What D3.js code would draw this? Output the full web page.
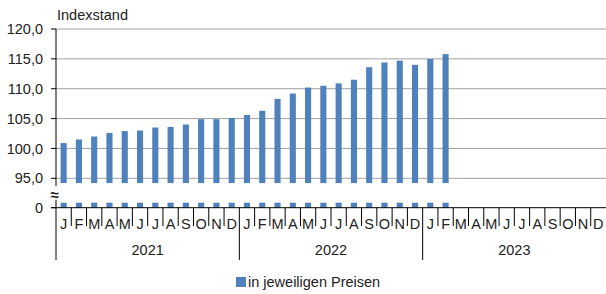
<!DOCTYPE html>
<html>
<head>
<meta charset="utf-8">
<script src="https://cdn.jsdelivr.net/npm/d3@7"></script>
<style>
  body { margin: 0; background: #fff; }
  svg { display: block; font-family: "Liberation Sans", Arial, sans-serif; }
</style>
</head>
<body>
<div id="chart"></div>
<script>
// Data
const years = ["2021", "2022", "2023"];
const monthLetters = ["J", "F", "M", "A", "M", "J", "J", "A", "S", "O", "N", "D"];
const values = [
    100.9, 101.5, 102.0, 102.6, 102.9, 103.0, 103.5, 103.6, 104.0, 104.9, 104.9, 105.1,
    105.6, 106.3, 108.3, 109.2, 110.2, 110.5, 110.9, 111.5, 113.6, 114.4, 114.7, 114.0,
    115.0, 115.8
];
const yTicks = [95, 100, 105, 110, 115, 120];
const seriesName = "in jeweiligen Preisen";

const width = 606, height = 294;
const left = 56, right = 606;
const barColor = "#4f81bd";
const fontSize = 14.5;

const svg = d3.select("#chart").append("svg")
    .attr("width", width)
    .attr("height", height);

const months = d3.range(years.length * 12);

const x = d3.scaleBand()
    .domain(months)
    .range([left, right])
    .paddingInner(0.6)
    .paddingOuter(0.3);

const xEdge = d3.scaleLinear().domain([0, months.length]).range([left, right]);

// Upper scale (95..120) and lower stub scale (0)
const yTop = d3.scaleLinear().domain([95, 120]).range([178.3, 29]);
const barBase = 94.2;
const yLow = d3.scaleLinear().domain([0, 1]).range([207.7, 202.7]);

const fmt = v => d3.format(".1f")(v).replace(".", ",");

// Gridlines
svg.append("g")
    .selectAll("line")
    .data(yTicks)
    .join("line")
    .attr("x1", left).attr("x2", right)
    .attr("y1", d => yTop(d)).attr("y2", d => yTop(d))
    .attr("stroke", "#a0a0a0")
    .attr("stroke-width", 1);

// Bars upper part
svg.append("g")
    .selectAll("rect")
    .data(values)
    .join("rect")
    .attr("x", (d, i) => x(i))
    .attr("width", x.bandwidth())
    .attr("y", d => yTop(d))
    .attr("height", d => yTop(barBase) - yTop(d))
    .attr("fill", barColor);

// Bars lower stub
svg.append("g")
    .selectAll("rect")
    .data(values)
    .join("rect")
    .attr("x", (d, i) => x(i))
    .attr("width", x.bandwidth())
    .attr("y", yLow(1))
    .attr("height", yLow(0) - yLow(1))
    .attr("fill", barColor);

// Y axis line (broken)
svg.append("line")
    .attr("x1", left).attr("x2", left)
    .attr("y1", yTop(120)).attr("y2", yTop(barBase) + 3)
    .attr("stroke", "#000");
svg.append("line")
    .attr("x1", left).attr("x2", left)
    .attr("y1", yLow(1) - 3).attr("y2", yLow(0))
    .attr("stroke", "#000");

// Y ticks + labels
const yt = svg.append("g");
yt.selectAll("line")
    .data(yTicks)
    .join("line")
    .attr("x1", left - 5).attr("x2", left)
    .attr("y1", d => yTop(d)).attr("y2", d => yTop(d))
    .attr("stroke", "#000");
yt.selectAll("text")
    .data(yTicks)
    .join("text")
    .attr("x", 43)
    .attr("y", d => yTop(d))
    .attr("dy", "0.35em")
    .attr("text-anchor", "end")
    .attr("font-size", fontSize)
    .attr("fill", "#222")
    .text(fmt);

// Zero tick and label
svg.append("line")
    .attr("x1", left - 5).attr("x2", left)
    .attr("y1", yLow(0)).attr("y2", yLow(0))
    .attr("stroke", "#000");
svg.append("text")
    .attr("x", 43)
    .attr("y", yLow(0))
    .attr("dy", "0.35em")
    .attr("text-anchor", "end")
    .attr("font-size", fontSize)
    .attr("fill", "#222")
    .text("0");

// Break symbol
svg.append("text")
    .attr("x", 54.5)
    .attr("y", 194.5)
    .attr("dy", "0.35em")
    .attr("text-anchor", "middle")
    .attr("font-size", 15)
    .attr("font-weight", "bold")
    .attr("fill", "#222")
    .text("≈");

// X axis line
svg.append("line")
    .attr("x1", left - 5).attr("x2", right)
    .attr("y1", yLow(0)).attr("y2", yLow(0))
    .attr("stroke", "#000");

// Month separators
svg.append("g")
    .selectAll("line")
    .data(d3.range(months.length + 1).filter(i => i % 12 !== 0))
    .join("line")
    .attr("x1", d => xEdge(d)).attr("x2", d => xEdge(d))
    .attr("y1", yLow(0)).attr("y2", 226)
    .attr("stroke", "#000");

// Year separators
svg.append("g")
    .selectAll("line")
    .data(d3.range(0, months.length, 12))
    .join("line")
    .attr("x1", d => xEdge(d)).attr("x2", d => xEdge(d))
    .attr("y1", yLow(0)).attr("y2", 260)
    .attr("stroke", "#000");

// Month labels
svg.append("g")
    .selectAll("text")
    .data(months)
    .join("text")
    .attr("x", d => xEdge(d + 0.5))
    .attr("y", 229)
    .attr("text-anchor", "middle")
    .attr("font-size", fontSize)
    .attr("fill", "#222")
    .text(d => monthLetters[d % 12]);

// Year labels
svg.append("g")
    .selectAll("text")
    .data(years)
    .join("text")
    .attr("x", (d, i) => xEdge(i * 12 + 6))
    .attr("y", 255)
    .attr("text-anchor", "middle")
    .attr("font-size", fontSize)
    .attr("fill", "#222")
    .text(d => d);

// Axis title
svg.append("text")
    .attr("x", 57)
    .attr("y", 20)
    .attr("font-size", fontSize)
    .attr("fill", "#222")
    .text("Indexstand");

// Legend
const lg = svg.append("g").attr("transform", "translate(236,277)");
lg.append("rect")
    .attr("width", 10).attr("height", 10)
    .attr("fill", barColor);
lg.append("text")
    .attr("x", 12)
    .attr("y", 10)
    .attr("font-size", fontSize)
    .attr("fill", "#222")
    .text(seriesName);
</script>
</body>
</html>
